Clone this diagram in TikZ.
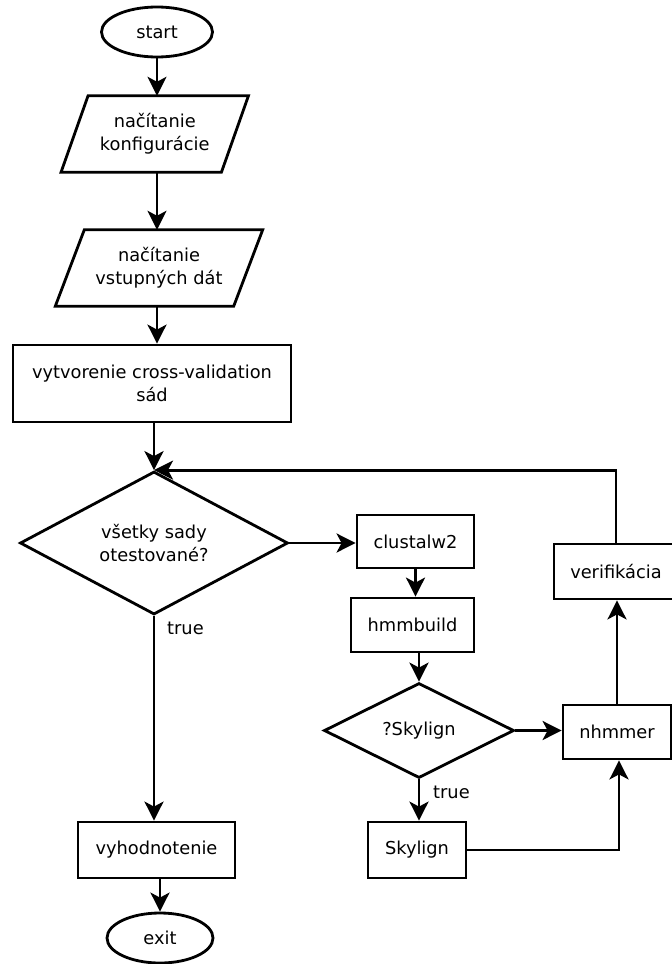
\documentclass[tikz,border=0pt]{standalone}
\usepackage{fontspec}
\setmainfont{DejaVu Sans}
\usetikzlibrary{arrows.meta,shapes.geometric}
\begin{document}
\begin{tikzpicture}[x=1pt,y=-1pt,
  line/.style={line width=2.8pt},
  arr/.style={line width=2.8pt,-{Stealth[length=19pt,width=19pt,inset=5pt]}},
  txt/.style={font=\fontsize{17.8pt}{23pt}\selectfont,align=center},
  term/.style={txt,ellipse,draw,line width=2.8pt,inner sep=0pt},
  proc/.style={txt,rectangle,draw,line width=2.8pt,inner sep=0pt},
  iobox/.style={txt,rectangle,inner sep=0pt},
  decide/.style={txt,diamond,draw,line width=2.8pt,inner sep=0pt,aspect=1.9},
  lbl/.style={font=\fontsize{17.8pt}{23pt}\selectfont,anchor=west,inner sep=0pt}]
\useasboundingbox[fill=white] (0,0) rectangle (672,964);

\node[term,minimum width=111pt,minimum height=50pt] (start) at (157,32) {start};
\node[iobox,minimum width=160pt,minimum height=76pt] (p1) at (154.75,134) {načítanie\\konfigurácie};
\draw[line,line join=miter] ([xshift=13.5pt]p1.north west) -- ([xshift=13.5pt]p1.north east)
  -- ([xshift=-13.5pt]p1.south east) -- ([xshift=-13.5pt]p1.south west) -- cycle;
\node[iobox,minimum width=178pt,minimum height=76pt] (p2) at (159,268) {načítanie\\vstupných dát};
\draw[line,line join=miter] ([xshift=14.5pt]p2.north west) -- ([xshift=14.5pt]p2.north east)
  -- ([xshift=-14.5pt]p2.south east) -- ([xshift=-14.5pt]p2.south west) -- cycle;
\node[proc,minimum width=278pt,minimum height=77pt] (cv) at (152,383.5) {vytvorenie cross-validation\\sád};
\node[decide,minimum width=268pt,minimum height=143pt] (all) at (154,543) {všetky sady\\otestované?};
\node[proc,minimum width=117pt,minimum height=53pt] (clu) at (415.5,541.5) {clustalw2};
\node[proc,minimum width=123pt,minimum height=54pt] (hmm) at (412.5,625) {hmmbuild};
\node[decide,minimum width=190pt,minimum height=95pt] (sky) at (419,730.5) {?Skylign};
\node[proc,minimum width=98pt,minimum height=56pt] (skb) at (417,850) {Skylign};
\node[proc,minimum width=108pt,minimum height=54pt] (nhm) at (617,732) {nhmmer};
\node[proc,minimum width=124pt,minimum height=55pt] (ver) at (616,571.5) {verifikácia};
\node[proc,minimum width=157pt,minimum height=56pt] (vyh) at (156.5,850) {vyhodnotenie};
\node[term,minimum width=106pt,minimum height=50pt] (exit) at (160,938) {exit};

\draw[arr] (start) -- (start |- p1.north);
\draw[arr] (p1.south -| start) -- (p2.north -| start);
\draw[arr] (p2.south -| start) -- (cv.north -| start);
\draw[arr] (cv.south -| all) -- (all.north);
\draw[arr] (all.east) -- (clu.west |- all.east);
\draw[arr] (clu) -- (clu |- hmm.north);
\draw[arr] (hmm.south -| sky) -- (sky.north);
\draw[arr] (sky.east) -- (nhm.west |- sky.east);
\draw[arr] (sky.south) -- (skb.north -| sky.south);
\draw[arr] (skb.east) -| ([xshift=2pt]nhm.south);
\draw[arr] (nhm.north) -- (ver.south -| nhm.north);
\coordinate (ret) at (ver.north |- all.north);
\draw[arr] (ver.north) -- (ret) -- (all.north);
\draw[arr] (all.south) -- (vyh.north -| all.south);
\draw[arr] (vyh.south -| exit) -- (exit.north);

\node[lbl] (t1) at (167,628) {true};
\node[lbl] (t2) at (433,792) {true};
\end{tikzpicture}
\end{document}
